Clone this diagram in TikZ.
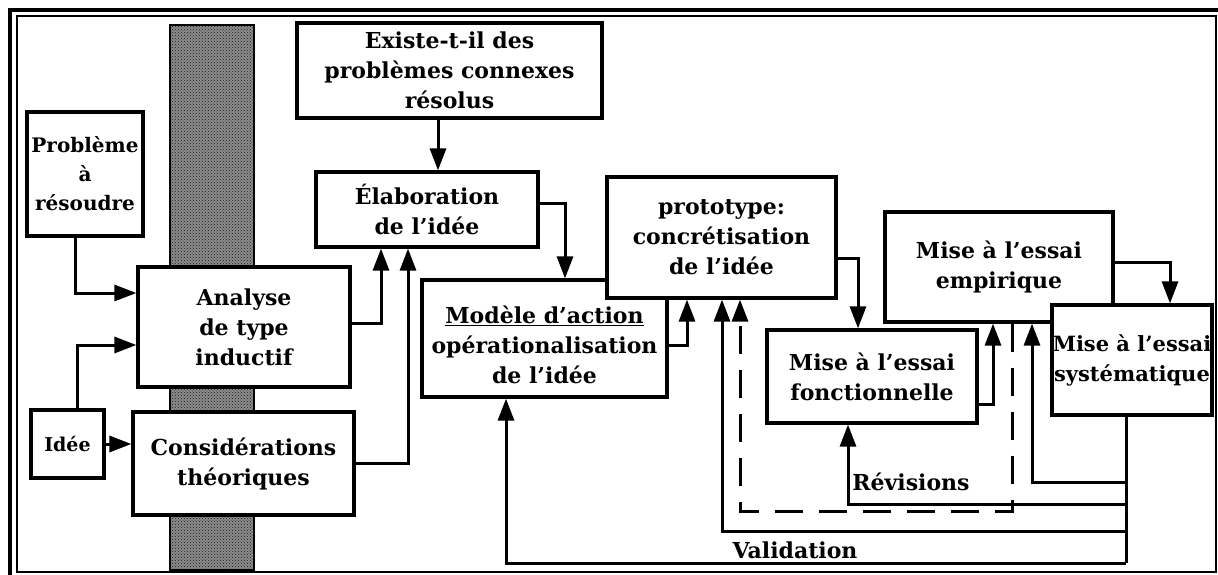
\documentclass[tikz,border=0pt]{standalone}
\usepackage{fontspec}
\setmainfont{DejaVu Serif}
\usetikzlibrary{arrows.meta,positioning,patterns}

\newcommand{\boxfont}{\fontsize{22}{30}\selectfont\bfseries}

\tikzset{
  box/.style={draw, line width=3.2pt, fill=white, align=center, inner sep=0pt, font=\boxfont},
  link/.style={line width=3pt, -{Triangle[length=22pt,width=16pt]}},
  wire/.style={line width=3pt},
  lbl/.style={font=\boxfont, inner sep=0pt},
}

\begin{document}
\begin{tikzpicture}[x=1pt, y=-1pt]
    \useasboundingbox (0,0) rectangle (1218,574);
    % double frame
    \draw[line width=3.5pt] (10,10) rectangle (1228,582);
    \draw[line width=2.8pt] (17,16) rectangle (1216,572);
    % shaded column
    \fill[black!45] (170,25) rectangle (254,570);
    \fill[pattern=crosshatch dots, pattern color=black!90] (170,25) rectangle (254,570);
    \draw[line width=2.5pt] (170,25) rectangle (254,570);

    \node[box, minimum width=116pt, minimum height=124pt, font=\fontsize{20}{29}\selectfont\bfseries] (probleme) at (85,174) {Problème\\à\\résoudre};
    \node[box, minimum width=212pt, minimum height=120pt] (analyse) at (244,327) {Analyse\\de type\\inductif};
    \node[box, minimum width=73pt, minimum height=68pt, font=\fontsize{19}{24}\selectfont\bfseries] (idee) at (67.5,444) {Idée};
    \node[box, minimum width=221pt, minimum height=103pt] (considerations) at (243.5,463.5) {Considérations\\théoriques};
    \node[box, minimum width=305pt, minimum height=95pt] (existe) at (449.5,70.5) {Existe-t-il des\\problèmes connexes\\résolus};
    \node[box, minimum width=222pt, minimum height=75pt] (elaboration) at (427,209.5) {Élaboration\\de l'idée};
    \node[box, minimum width=245pt, minimum height=117pt] (modele) at (544.5,338.5) {\rule{0pt}{30pt}\underline{Modèle d'action}\\opérationalisation\\de l'idée};
    \node[box, minimum width=229pt, minimum height=121pt] (prototype) at (721.5,237.5) {prototype:\\concrétisation\\de l'idée};
    \node[box, minimum width=210pt, minimum height=93pt] (fonctionnelle) at (872,376.5) {Mise à l'essai\\fonctionnelle};
    \node[box, minimum width=228pt, minimum height=110pt] (empirique) at (999,267) {Mise à l'essai\\empirique};
    \node[box, minimum width=160pt, minimum height=110pt, font=\fontsize{21}{30}\selectfont\bfseries] (systematique) at (1132,360) {Mise à l'essai\\systématique};

    \draw[link] ([xshift=-10pt]probleme.south) |- ([yshift=34pt]analyse.west);
    \draw[link] ([xshift=9.5pt]idee.north) |- ([yshift=-18pt]analyse.west);
    \draw[link] (idee.east) -- (idee.east -| considerations.west);
    \draw[link] ([yshift=4pt]analyse.east) -| ([xshift=-46pt]elaboration.south);
    \draw[link] (considerations.east) -| ([xshift=-19pt]elaboration.south);
    \draw[link] ([xshift=-11.5pt]existe.south) -- ([xshift=11pt]elaboration.north);
    \draw[link] ([yshift=6.5pt]elaboration.east) -| ([xshift=20.5pt]modele.north);
    \draw[link] ([yshift=-6.5pt]modele.east) -| ([xshift=-34.5pt]prototype.south);
    \draw[link] ([yshift=-20.5pt]prototype.east) -| ([xshift=-14pt]fonctionnelle.north);
    \draw[link] ([yshift=5pt]empirique.east) -| ([xshift=38pt]systematique.north);
    \draw[link] ([yshift=-27.5pt]fonctionnelle.east) -| ([xshift=-6pt]empirique.south);

    % retours depuis la mise a l'essai systematique
    \coordinate (tapE) at (1126,482);
    \coordinate (tapR) at (1126,504);
    \coordinate (tapP) at (1126,531);
    \coordinate (tapV) at (1126,563);
    \coordinate (dashbas) at (876,511);
    \draw[wire] ([xshift=-6pt]systematique.south) -- (tapV);
    \draw[link] (tapE) -| ([xshift=33pt]empirique.south);
    \draw[link] (tapR) -| ([xshift=-24pt]fonctionnelle.south);
    \draw[link] (tapP) -| ([xshift=0.5pt]prototype.south);
    \draw[link] (tapV) -| ([xshift=-38.5pt]modele.south);
    \draw[link, dash pattern=on 28pt off 16pt] ([xshift=13pt]empirique.south) |- (dashbas) -| ([xshift=18.5pt]prototype.south);

    \node[lbl] (revisions) at (911,482) {Révisions};
    \node[lbl] (validation) at (795,550) {Validation};
\end{tikzpicture}
\end{document}
